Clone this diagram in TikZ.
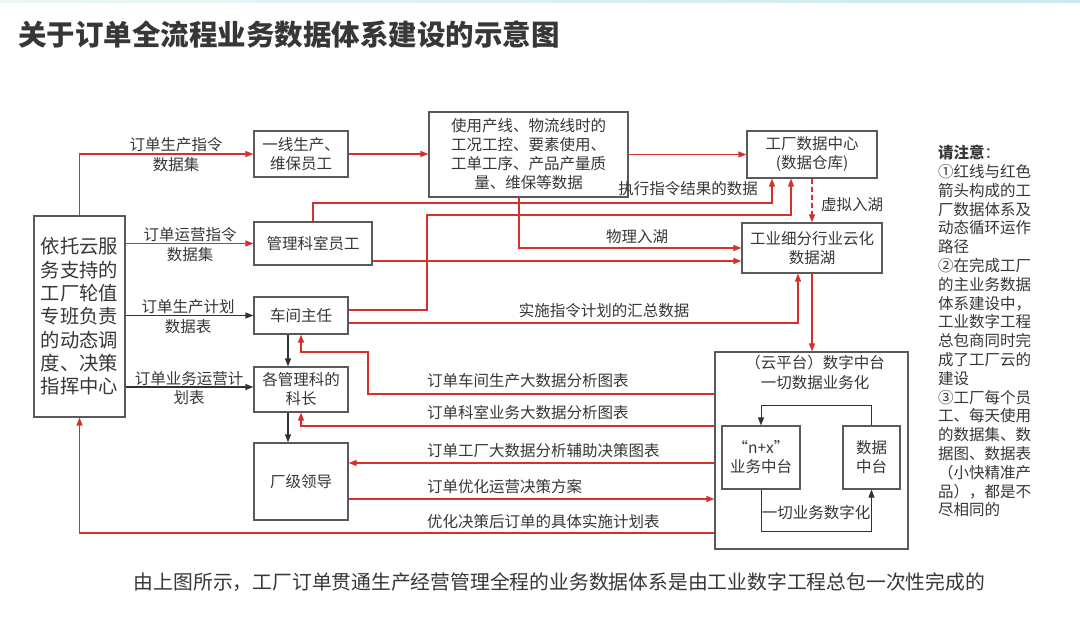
\documentclass[tikz,border=0pt]{standalone}
\usepackage{fontspec}
\setmainfont{Noto Sans CJK SC}
\usetikzlibrary{arrows.meta,calc}
\definecolor{rl}{RGB}{214,48,45}
\definecolor{bx}{RGB}{90,90,90}
\definecolor{tx}{RGB}{55,55,55}
\definecolor{ar}{RGB}{50,50,50}
\definecolor{topbar}{RGB}{205,232,236}
\begin{document}
\begin{tikzpicture}[x=1pt,y=-1pt,
  box/.style={draw=bx,line width=1.2pt,align=center,inner sep=0pt,text=tx,font=\fontsize{15.5}{19}\selectfont},
  lbl/.style={align=center,inner sep=0pt,text=tx,font=\fontsize{15.5}{20}\selectfont},
  rd/.style={draw=rl,line width=1.3pt,-{Triangle[length=8pt,width=6pt]}},
  bk/.style={draw=ar,line width=1.2pt,-{Triangle[length=8pt,width=6pt]}}
]
\useasboundingbox (0,0) rectangle (1080,623);
\fill[white] (0,0) rectangle (1080,623);
\shade[left color=topbar!40!white, right color=topbar] (0,0) rectangle (1080,3);

% title
\node[anchor=west,inner sep=0pt,text=tx,font=\fontsize{28.5}{30}\selectfont\bfseries] (T) at (18,35) {关于订单全流程业务数据体系建设的示意图};

% boxes
\node[box,minimum width=91pt,minimum height=201pt,font=\fontsize{19.3}{23.3}\selectfont] (L) at (79.5,316.5) {依托云服\\务支持的\\工厂轮值\\专班负责\\的动态调\\度、决策\\指挥中心};
\node[box,minimum width=94pt,minimum height=46pt] (A) at (301,154) {一线生产、\\维保员工};
\node[box,minimum width=118pt,minimum height=43pt] (B) at (313,243.5) {管理科室员工};
\node[box,minimum width=199pt,minimum height=85pt] (C) at (528.5,154.5) {使用产线、物流线时的\\工况工控、要素使用、\\工单工序、产品产量质\\量、维保等数据};
\node[box,minimum width=130pt,minimum height=47pt] (D) at (812,154.5) {工厂数据中心\\(数据仓库)};
\node[box,minimum width=140pt,minimum height=50pt] (E) at (812,248) {工业细分行业云化\\数据湖};
\node[box,minimum width=94pt,minimum height=37pt] (F) at (301,315.5) {车间主任};
\node[box,minimum width=94pt,minimum height=45pt] (G) at (301,389.5) {各管理科的\\科长};
\node[box,minimum width=94pt,minimum height=77pt] (H) at (301,481.5) {厂级领导};
\node[box,minimum width=193pt,minimum height=197pt] (K) at (811.5,450.5) {};
\node[lbl] (Kt) at (815,373) {（云平台）数字中台\\一切数据业务化};
\node[box,minimum width=78pt,minimum height=63pt] (N) at (761,457.5) {“n+x”\\业务中台};
\node[box,minimum width=57pt,minimum height=63pt] (M) at (871.5,457.5) {数据\\中台};

% helper coordinates
\coordinate (Dl) at ([xshift=-40pt]D.south);
\coordinate (Dr) at ([xshift=-21pt]D.south);
\coordinate (h203) at (0,203);
\coordinate (p215) at (427,215);
\coordinate (p352) at (368,352);

% red connectors
\draw[rd] (L.north) |- (A.west);
\draw[rd] (A.east) -- (A.east -| C.west);
\draw[rd] (C.east) -- (C.east -| D.west);
\draw[rd] (B.north) |- (Dl |- h203) -- (Dl);
\draw[rd] ([yshift=5.5pt]F.east) -| (p215) -| (Dr);
\draw[rd] ([xshift=-9.5pt]C.south) |- (E.west);
\draw[rd] ([yshift=-17.5pt]B.east) -- ([yshift=-13pt]E.west);
\draw[rd,dash pattern=on 5pt off 3pt] (D.south) -- (E.north);
\draw[rd] ([yshift=-7.5pt]F.east) -| ([xshift=-14pt]E.south);
\draw[rd] (E.south) -- (E.south |- K.north);
\draw[rd] ([yshift=56.5pt]K.west) -| (p352) -| (F.south);
\draw[rd] ([yshift=24.5pt]K.west) -| (G.south);
\draw[rd] ([yshift=-12.5pt]K.west) -- ([yshift=18.5pt]H.east);
\draw[rd] ([yshift=-17.5pt]H.east) -- ([yshift=-48.5pt]K.west);
\draw[rd] ([yshift=-82.5pt]K.west) -| (L.south);
\draw[rd] (B.west -| L.east) -- (B.west);

% black connectors
\draw[bk] (F.west -| L.east) -- (F.west);
\draw[bk] ([yshift=2.5pt]G.west -| L.east) -- ([yshift=2.5pt]G.west);
\draw[bk] ([xshift=-13pt]F.south) -- ([xshift=-13pt]G.north);
\draw[bk] ([xshift=-13pt]G.south) -- ([xshift=-13pt]H.north);
\draw[bk,line width=1pt] (M.north) -- ++(0,-20) -| (N.north);
\draw[bk,line width=1pt] (N.south) -- ++(0,42) -| (M.south);

% labels
\node[lbl] (l1) at (176,155) {订单生产指令\\数据集};
\node[lbl] (l2) at (190,245) {订单运营指令\\数据集};
\node[lbl] (l3) at (188,317) {订单生产计划\\数据表};
\node[lbl,font=\fontsize{15.5}{19}\selectfont] (l4) at (189,388) {订单业务运营计\\划表};
\node[lbl] (l5) at (688,189) {执行指令结果的数据};
\node[lbl] (l6) at (637,237) {物理入湖};
\node[lbl] (l7) at (852,205) {虚拟入湖};
\node[lbl] (l8) at (604,311) {实施指令计划的汇总数据};
\node[lbl,anchor=west] (l9) at (427,381) {订单车间生产大数据分析图表};
\node[lbl,anchor=west] (l10) at (427,413) {订单科室业务大数据分析图表};
\node[lbl,anchor=west] (l11) at (427,451) {订单工厂大数据分析辅助决策图表};
\node[lbl,anchor=west] (l12) at (427,487) {订单优化运营决策方案};
\node[lbl,anchor=west] (l13) at (427,522) {优化决策后订单的具体实施计划表};
\node[lbl] (l14) at (816,513) {一切业务数字化};

% note
\node[anchor=north west,align=left,inner sep=0pt,text=tx,font=\fontsize{15.5}{18.8}\selectfont] (note) at (938,145) {\textbf{请注意}：\\①红线与红色\\箭头构成的工\\厂数据体系及\\动态循环运作\\路径\\②在完成工厂\\的主业务数据\\体系建设中，\\工业数字工程\\总包商同时完\\成了工厂云的\\建设\\③工厂每个员\\工、每天使用\\的数据集、数\\据图、数据表\\（小快精准产\\品），都是不\\尽相同的};

% bottom sentence
\node[lbl,font=\fontsize{19.8}{22}\selectfont] (S) at (559.5,582) {由上图所示，工厂订单贯通生产经营管理全程的业务数据体系是由工业数字工程总包一次性完成的};
\end{tikzpicture}
\end{document}
